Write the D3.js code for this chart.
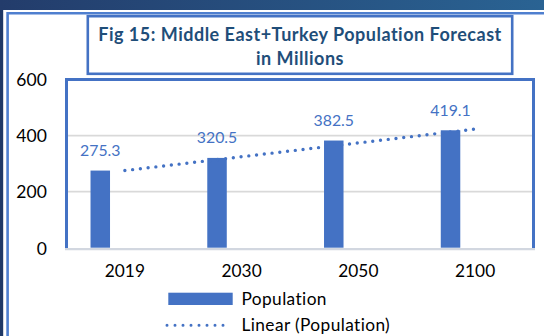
<!DOCTYPE html>
<html>
<head>
<meta charset="utf-8">
<script src="https://cdn.jsdelivr.net/npm/d3@7"></script>
<style>
  html, body { margin: 0; padding: 0; background: #fff; }
  svg { display: block; }
</style>
</head>
<body>
<svg id="chart" width="544" height="336"></svg>
<script>
// Population forecast (millions)
const years = ["2019", "2030", "2050", "2100"];
const population = [275.3, 320.5, 382.5, 419.1];
const yTicks = [0, 200, 400, 600];
const titleLines = ["Fig 15: Middle East+Turkey Population Forecast", "in Millions"];
const legendLabels = ["Population", "Linear (Population)"];

const W = 544, H = 336;
const blue = "#4472c4";
const font = "Lato, 'Open Sans', sans-serif";

const svg = d3.select("#chart");
const defs = svg.append("defs");
const grad = defs.append("linearGradient").attr("id", "band").attr("x1", 0).attr("x2", 1).attr("y1", 0).attr("y2", 0);
grad.append("stop").attr("offset", "0%").attr("stop-color", "#233c6b");
grad.append("stop").attr("offset", "100%").attr("stop-color", "#2a6393");

// frame: dark band, white sheet, outer blue border
svg.append("rect").attr("width", W).attr("height", H).attr("fill", "url(#band)");
svg.append("rect").attr("x", 0).attr("y", 10).attr("width", 3.2).attr("height", H).attr("fill", "#1f3866");
svg.append("rect").attr("x", 3.2).attr("y", 10).attr("width", W).attr("height", H).attr("fill", "#fff");
svg.append("path")
  .attr("d", `M7.6,${H} V13.2 H${W}`)
  .attr("fill", "none").attr("stroke", "#4f7fcf").attr("stroke-width", 2.6);

// title box
svg.append("rect").attr("x", 87.8).attr("y", 16.2).attr("width", 424.4).attr("height", 57.6)
  .attr("fill", "#fff").attr("stroke", blue).attr("stroke-width", 2.6);
svg.append("text").attr("font-family", font).attr("font-weight", 700).attr("font-size", 18)
  .attr("letter-spacing", 0.5)
  .attr("fill", "#1f4e79").attr("text-anchor", "middle")
  .selectAll("tspan").data(titleLines).join("tspan")
  .attr("x", 300).attr("y", (d, i) => 40.5 + i * 24).text(d => d);

// plot area
const plot = { left: 66.5, right: 533.5, top: 79.6, bottom: 247.7 };
const x = d3.scaleBand().domain(years).range([plot.left, plot.right]).padding(0);
const y = d3.scaleLinear().domain([0, 600]).range([plot.bottom, plot.top]);
const barW = 19.5, barShift = -24.6;

// gridlines
svg.append("g").selectAll("line").data(yTicks.filter(t => t > 0 && t < 600)).join("line")
  .attr("x1", plot.left).attr("x2", plot.right)
  .attr("y1", d => y(d)).attr("y2", d => y(d))
  .attr("stroke", "#d9d9d9").attr("stroke-width", 1.6);

// y axis labels
const yAxis = d3.axisLeft(y).tickValues(yTicks).tickSize(0).tickPadding(0);
const yg = svg.append("g").attr("transform", "translate(46.8,0)").call(yAxis);
yg.select(".domain").remove();
yg.selectAll("text").attr("font-family", font).attr("font-size", 17.5).attr("fill", "#000").attr("dy", "0.36em");

// x axis labels
const xAxis = d3.axisBottom(x).tickSize(0).tickPadding(0);
const xg = svg.append("g").attr("transform", "translate(0,263)").call(xAxis);
xg.select(".domain").remove();
xg.selectAll("text").attr("font-family", font).attr("font-size", 17.3).attr("fill", "#000").attr("dy", "0.78em");

// bars
svg.append("g").selectAll("rect").data(population).join("rect")
  .attr("x", (d, i) => x(years[i]) + x.bandwidth() / 2 + barShift - barW / 2)
  .attr("y", d => y(d))
  .attr("width", barW)
  .attr("height", d => y(0) - y(d))
  .attr("fill", blue);

// value labels
svg.append("g").selectAll("text").data(population).join("text")
  .attr("x", (d, i) => x(years[i]) + x.bandwidth() / 2 + barShift)
  .attr("y", d => y(d) - 14.5)
  .attr("text-anchor", "middle")
  .attr("font-family", font).attr("font-size", 15.8).attr("fill", blue)
  .text(d => d.toFixed(1));

// linear trendline (least squares over category index)
const idx = population.map((d, i) => i + 1);
const mx = d3.mean(idx), my = d3.mean(population);
const slope = d3.sum(idx, (v, i) => (v - mx) * (population[i] - my)) / d3.sum(idx, v => (v - mx) ** 2);
const icpt = my - slope * mx;
const trend = [idx[0], idx[idx.length - 1]].map(v => ({ cat: years[v - 1], val: icpt + slope * v }));
svg.append("path")
  .attr("d", d3.line().x(d => x(d.cat) + x.bandwidth() / 2).y(d => y(d.val))(trend))
  .attr("fill", "none").attr("stroke", blue).attr("stroke-width", 3.4)
  .attr("stroke-linecap", "round").attr("stroke-dasharray", "0 7.8");

// plot border and baseline
svg.append("path")
  .attr("d", `M${plot.left},${plot.bottom + 1.5} V${plot.top} H${plot.right} V${plot.bottom + 1.5}`)
  .attr("fill", "none").attr("stroke", blue).attr("stroke-width", 3);
svg.append("line").attr("x1", plot.left - 1.5).attr("x2", plot.right + 1.5)
  .attr("y1", plot.bottom + 1.4).attr("y2", plot.bottom + 1.4)
  .attr("stroke", "#d2d7e0").attr("stroke-width", 2.4);

// legend
const lg = svg.append("g");
lg.append("rect").attr("x", 168.3).attr("y", 292.7).attr("width", 64.4).attr("height", 12.3).attr("fill", blue);
lg.append("line").attr("x1", 167).attr("x2", 231).attr("y1", 325.3).attr("y2", 325.3)
  .attr("stroke", blue).attr("stroke-width", 3).attr("stroke-linecap", "round").attr("stroke-dasharray", "0 8");
lg.selectAll("text").data(legendLabels).join("text")
  .attr("x", 241.5).attr("y", (d, i) => 305 + i * 26)
  .attr("font-family", font).attr("font-size", 17.3).attr("letter-spacing", 0.4).attr("fill", "#000")
  .text(d => d);
</script>
</body>
</html>
